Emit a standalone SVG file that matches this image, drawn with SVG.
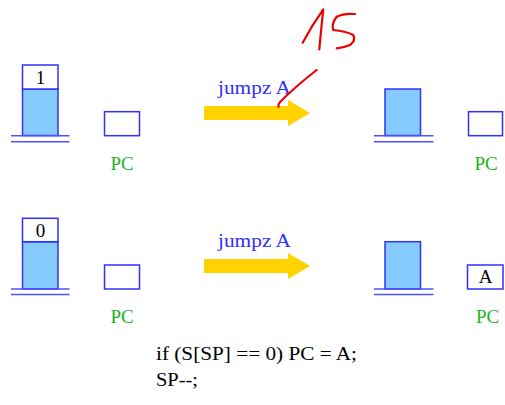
<svg xmlns="http://www.w3.org/2000/svg" width="505" height="405" viewBox="0 0 505 405">
<style>
.box{fill:#fff;stroke:#3030ff;stroke-width:1.5}
.stk{fill:#86cbff;stroke:#3030ff;stroke-width:1.5}
.base{stroke:#5050ff;stroke-width:1.5}
.pc{font-family:"Liberation Serif",serif;font-size:19px;fill:#1db31d;text-anchor:middle}
.lbl{font-family:"Liberation Serif",serif;font-size:19px;fill:#3030ff}
.val{font-family:"Liberation Serif",serif;font-size:19px;fill:#000;text-anchor:middle}
.code{font-family:"Liberation Serif",serif;font-size:19px;fill:#000}
.arrow{fill:#ffd200}
.ink{fill:none;stroke:#ee0000;stroke-width:2.2;stroke-linecap:round;stroke-linejoin:round}
</style>
<rect width="505" height="405" fill="#fff"/>
<g id="stack1-before">
<rect class="stk" x="22.5" y="89" width="35.5" height="46.5"/>
<rect class="box" x="22.5" y="65" width="35.5" height="24"/>
<text class="val" x="40.5" y="84">1</text>
<line class="base" x1="11" y1="135.7" x2="69.5" y2="135.7"/>
<line class="base" x1="11" y1="141.7" x2="69.5" y2="141.7"/>
</g>
<g id="pc1-before">
<rect class="box" x="104.5" y="111.7" width="35" height="24"/>
<text class="pc" x="122" y="170">PC</text>
</g>
<g id="stack1-after">
<rect class="stk" x="385" y="89" width="35.5" height="46.5"/>
<line class="base" x1="374" y1="135.7" x2="433.5" y2="135.7"/>
<line class="base" x1="374" y1="141.7" x2="433.5" y2="141.7"/>
</g>
<g id="pc1-after">
<rect class="box" x="468.5" y="111.7" width="34" height="24"/>
<text class="pc" x="486" y="170">PC</text>
</g>
<g id="stack2-before">
<rect class="stk" x="22.5" y="241.7" width="35.5" height="47.3"/>
<rect class="box" x="22.5" y="218.3" width="35.5" height="23.4"/>
<text class="val" x="40.5" y="237">0</text>
<line class="base" x1="11" y1="289" x2="69.5" y2="289"/>
<line class="base" x1="11" y1="294.5" x2="69.5" y2="294.5"/>
</g>
<g id="pc2-before">
<rect class="box" x="104.5" y="265" width="35" height="24"/>
<text class="pc" x="122" y="322.5">PC</text>
</g>
<g id="stack2-after">
<rect class="stk" x="385" y="241.7" width="35.5" height="47.3"/>
<line class="base" x1="374" y1="289" x2="433.5" y2="289"/>
<line class="base" x1="374" y1="294.5" x2="433.5" y2="294.5"/>
</g>
<g id="pc2-after">
<rect class="box" x="467.5" y="265" width="35.5" height="24"/>
<text class="val" x="485.5" y="283">A</text>
<text class="pc" x="487.5" y="322.5">PC</text>
</g>
<g id="connectors">
<polygon class="arrow" points="204,106 288,106 288,100 310,113 288,126 288,120 204,120"/>
<text class="lbl" x="218" y="93.5" textLength="73" lengthAdjust="spacingAndGlyphs">jumpz A</text>
<polygon class="arrow" points="204,259 288,259 288,253 310,266 288,279 288,273 204,273"/>
<text class="lbl" x="218" y="246.5" textLength="73" lengthAdjust="spacingAndGlyphs">jumpz A</text>
</g>
<g id="code">
<text class="code" x="156" y="360" textLength="201" lengthAdjust="spacingAndGlyphs">if (S[SP] == 0) PC = A;</text>
<text class="code" x="156" y="386" textLength="42" lengthAdjust="spacingAndGlyphs">SP--;</text>
</g>
<g id="annotation">
<path class="ink" d="M302.7,42.7 Q312,25 323.3,9.3 Q321,30 319.3,49.3"/>
<path class="ink" d="M355,14 Q344,13 336.7,16.7 Q331,24 333.3,30 Q345,31 353.3,35 Q356,41 350,45 Q343,48 336.7,48.3"/>
<path class="ink" d="M278.5,107 Q278,104 280,102 Q296,86 316.7,70"/>
</g>
</svg>
